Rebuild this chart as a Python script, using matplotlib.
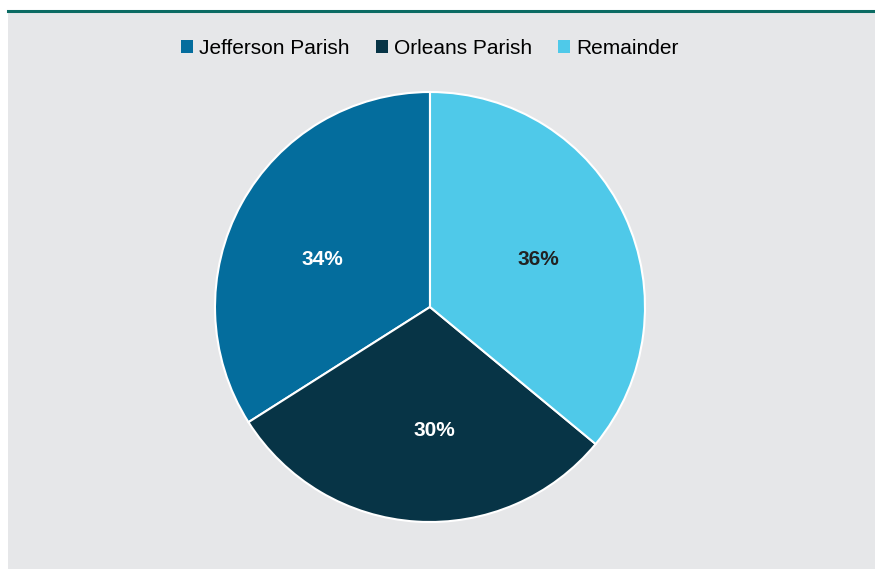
import matplotlib
matplotlib.use("Agg")
import matplotlib.pyplot as plt
from matplotlib.patches import Rectangle
from matplotlib.lines import Line2D

categories = ["Jefferson Parish", "Orleans Parish", "Remainder"]
shares = [34, 30, 36]
colors = ["#046d9d", "#073446", "#4fc9e9"]
label_colors = ["white", "white", "#222222"]
# data-label anchor points, in units of the pie radius
label_xy = [(-0.50, 0.22), (0.02, -0.575), (0.505, 0.22)]

plt.rcParams["font.family"] = ["Liberation Sans", "DejaVu Sans"]

W, H = 875, 569
fig = plt.figure(figsize=(W / 100, H / 100), dpi=100)
fig.patch.set_facecolor("white")

# grey panel and teal rule across the top
fig.add_artist(Rectangle((8 / W, 0), 1 - 8 / W, 1 - 13 / H,
                         transform=fig.transFigure, facecolor="#e6e7e9",
                         edgecolor="none", zorder=0))
fig.add_artist(Line2D([8 / W, 1], [1 - 11 / H, 1 - 11 / H],
                      transform=fig.transFigure, color="#0b6b63",
                      linewidth=2.2, zorder=1))

# pie axes: centre (430, 307), radius 215 px
r = 215
cx, cy = 430, 307
ax = fig.add_axes([(cx - r) / W, (H - cy - r) / H, 2 * r / W, 2 * r / H])
ax.set_facecolor("none")
wedges, texts = ax.pie(shares, colors=colors, startangle=90, counterclock=True,
                       wedgeprops=dict(edgecolor="white", linewidth=1.5))
ax.set_aspect("equal")
ax.set_xlim(-1, 1)
ax.set_ylim(-1, 1)

for v, tc, (lx, ly) in zip(shares, label_colors, label_xy):
    ax.text(lx, ly, f"{v}%", ha="center", va="center", color=tc,
            fontsize=15, fontweight="bold")

handles = [Rectangle((0, 0), 1, 1, facecolor=c, edgecolor="none") for c in colors]
fig.legend(handles, categories, loc="center", bbox_to_anchor=(430 / W, 1 - 48 / H),
           ncol=3, frameon=False, fontsize=15, handlelength=0.58, handleheight=0.58,
           handletextpad=0.3, columnspacing=1.25)

fig.savefig("out.png", dpi=100, facecolor=fig.get_facecolor())
